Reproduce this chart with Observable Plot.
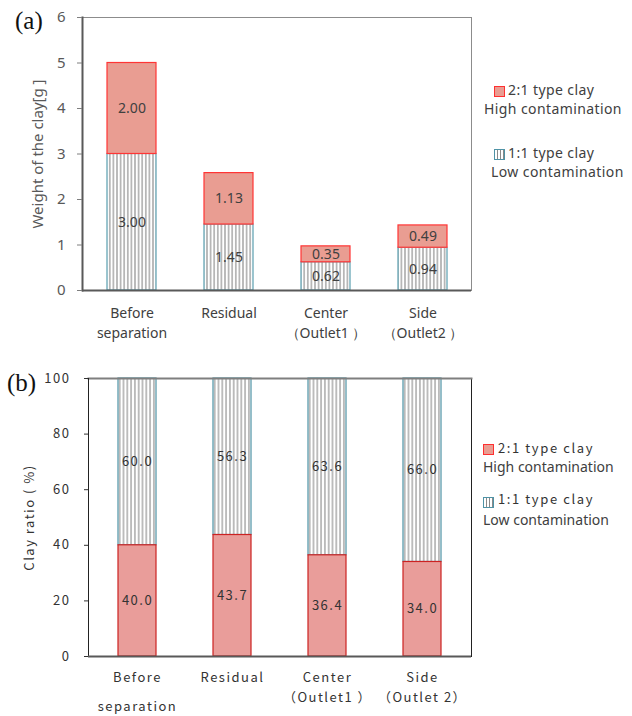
<!DOCTYPE html>
<html><head><meta charset="utf-8">
<script src="https://cdn.jsdelivr.net/npm/d3@7"></script>
<script src="https://cdn.jsdelivr.net/npm/@observablehq/plot@0.6"></script>
<style>
body{margin:0;background:#fff;}
#wrap{position:relative;width:632px;height:716px;overflow:hidden;background:#fff;}
.abs{position:absolute;white-space:nowrap;line-height:1;}
.panel{font-family:"Liberation Serif",serif;font-size:25px;color:#111;}
.lgA{font-family:"Noto Sans",sans-serif;font-size:14px;color:#404040;letter-spacing:0.4px;}
.lgB1{font-family:"Noto Sans CJK JP",sans-serif;font-size:13px;color:#333;letter-spacing:1.6px;}
.lgB2{font-family:"Noto Sans",sans-serif;font-size:14px;color:#404040;}
.swR{position:absolute;width:9px;height:9px;background:#e99d92;border:1px solid #ff3030;}
.swH{position:absolute;width:9px;height:9px;border:1px solid #4f93a6;background:repeating-linear-gradient(90deg,#fff 0 2px,#8a8a8a 2px 3px);}
</style></head><body><div id="wrap"></div>
<script>
// ---- data ----
const categoriesA = ["Before\nseparation", "Residual", "Center\n（Outlet1 ）", "Side\n（Outlet2 ）"];
const categoriesB = ["Before separation", "Residual", "Center (Outlet1)", "Side (Outlet 2)"];
const labelsB1 = ["Before", "Residual", "Center", "Side"];
const labelsB2 = ["", "", "（Outlet1 ）", "（Outlet 2）"];
const labelsB3 = ["separation", "", "", ""];
const weightLow = [3.00, 1.45, 0.62, 0.94];   // 1:1 type clay (g)
const weightHigh = [2.00, 1.13, 0.35, 0.49];  // 2:1 type clay (g)
const ratioHigh = [40.0, 43.7, 36.4, 34.0];   // 2:1 type clay (%)
const ratioLow = [60.0, 56.3, 63.6, 66.0];    // 1:1 type clay (%)
const ticksA = [0, 1, 2, 3, 4, 5, 6];
const ticksB = [0, 20, 40, 60, 80, 100];
const seriesNames = ["2:1 type clay", "High contamination", "1:1 type clay", "Low contamination"];

const wrap = document.getElementById("wrap");

function addPattern(svg, id, w) {
  const defs = d3.select(svg).insert("defs", ":first-child");
  const p = defs.append("pattern").attr("id", id).attr("patternUnits", "userSpaceOnUse")
    .attr("width", w).attr("height", 10);
  p.append("rect").attr("width", w).attr("height", 10).attr("fill", "#fff");
  p.append("line").attr("x1", w / 2).attr("x2", w / 2).attr("y1", 0).attr("y2", 10)
    .attr("stroke", "#7d7d7d").attr("stroke-width", 1);
}

// ---- panel (a) ----
const lowA = categoriesA.map((c, i) => ({c, y1: 0, y2: weightLow[i], v: weightLow[i]}));
const highA = categoriesA.map((c, i) => ({c, y1: weightLow[i], y2: weightLow[i] + weightHigh[i], v: weightHigh[i]}));

const plotA = Plot.plot({
  width: 632, height: 345,
  marginLeft: 82, marginRight: 161, marginTop: 17, marginBottom: 55,
  style: {fontFamily: "'Noto Sans', sans-serif", fontSize: "14px", color: "#595959", background: "transparent", overflow: "visible"},
  x: {domain: categoriesA, paddingInner: 0.5, paddingOuter: 0.25, label: null},
  y: {domain: [0, 6], label: null},
  marks: [
    Plot.frame({stroke: "#8c8c8c", strokeWidth: 1}),
    Plot.barY(lowA, {x: "c", y1: "y1", y2: "y2", fill: "url(#hatchA)", stroke: "#5a9fb0", strokeWidth: 1.2}),
    Plot.barY(highA, {x: "c", y1: "y1", y2: "y2", fill: "#e99d92", stroke: "#ff3535", strokeWidth: 1.2}),
    Plot.text(lowA, {x: "c", y: d => (d.y1 + d.y2) / 2, text: d => d.v.toFixed(2), fill: "#404040", fontSize: 14}),
    Plot.text(highA, {x: "c", y: d => (d.y1 + d.y2) / 2, text: d => d.v.toFixed(2), fill: "#404040", fontSize: 14}),
    Plot.frame({anchor: "left", stroke: "#595959", strokeWidth: 2}),
    Plot.ruleY([0], {stroke: "#595959", strokeWidth: 2}),
    Plot.axisY({ticks: ticksA, tickFormat: d => String(d), tickSize: 5, tickPadding: 12, stroke: "#7f7f7f", fill: "#595959", fontSize: 15,
      label: null}),
    Plot.axisY({ticks: [], label: "Weight of the clay[g ]", labelAnchor: "center", labelOffset: 50, labelArrow: false,
      fill: "#595959", fontSize: 15, letterSpacing: "0.5px"}),
    Plot.axisX({tickSize: 0, tickPadding: 13, lineHeight: 1.45, fill: "#404040", fontSize: 14, label: null})
  ]
});
addPattern(plotA, "hatchA", 3.6);
plotA.style.position = "absolute"; plotA.style.left = "0px"; plotA.style.top = "0px";
wrap.appendChild(plotA);

// ---- panel (b) ----
const highB = categoriesB.map((c, i) => ({c, y1: 0, y2: ratioHigh[i], v: ratioHigh[i]}));
const lowB = categoriesB.map((c, i) => ({c, y1: ratioHigh[i], y2: ratioHigh[i] + ratioLow[i], v: ratioLow[i]}));
const lookup = arr => d => arr[categoriesB.indexOf(d)];

const plotB = Plot.plot({
  width: 632, height: 366,
  marginLeft: 88, marginRight: 161, marginTop: 28, marginBottom: 60,
  style: {fontFamily: "'Noto Sans CJK JP', sans-serif", fontSize: "13px", color: "#333", background: "transparent", overflow: "visible", letterSpacing: "1.5px"},
  x: {domain: categoriesB, paddingInner: 0.6, paddingOuter: 0.3, label: null},
  y: {domain: [0, 100], label: null},
  marks: [
    Plot.frame({anchor: "right", stroke: "#222", strokeWidth: 1}),
    Plot.barY(lowB, {x: "c", y1: "y1", y2: "y2", fill: "url(#hatchB)", stroke: "#4f93a6", strokeWidth: 1.2}),
    Plot.barY(highB, {x: "c", y1: "y1", y2: "y2", fill: "#e99d9a", stroke: "#cc2222", strokeWidth: 1.2}),
    Plot.text(lowB, {x: "c", y: d => (d.y1 + d.y2) / 2, text: d => d.v.toFixed(1), fill: "#333", fontSize: 13}),
    Plot.text(highB, {x: "c", y: d => (d.y1 + d.y2) / 2, text: d => d.v.toFixed(1), fill: "#333", fontSize: 13}),
    Plot.frame({anchor: "top", stroke: "#7f7f7f", strokeWidth: 2}),
    Plot.frame({anchor: "left", stroke: "#222", strokeWidth: 1}),
    Plot.ruleY([0], {stroke: "#595959", strokeWidth: 2}),
    Plot.axisY({ticks: ticksB, tickFormat: d => String(d), tickSize: 4, tickPadding: 14, stroke: "#333", fill: "#333", fontSize: 13,
      label: "Clay ratio ( %)", labelAnchor: "center", labelOffset: 64, labelArrow: false}),
    Plot.axisX({tickSize: 0, tickPadding: 16, tickFormat: lookup(labelsB1), fill: "#333", fontSize: 13, label: null}),
    Plot.axisX({tickSize: 0, tickPadding: 36, tickFormat: lookup(labelsB2), fill: "#333", fontSize: 13, label: null}),
    Plot.axisX({tickSize: 0, tickPadding: 45, tickFormat: lookup(labelsB3), fill: "#333", fontSize: 13, label: null})
  ]
});
addPattern(plotB, "hatchB", 3.8);
plotB.style.position = "absolute"; plotB.style.left = "0px"; plotB.style.top = "350px";
wrap.appendChild(plotB);

// ---- panel letters and legends (HTML) ----
function addDiv(cls, text, left, top) {
  const d = document.createElement("div");
  d.className = "abs " + cls; d.textContent = text;
  d.style.left = left + "px"; d.style.top = top + "px";
  wrap.appendChild(d); return d;
}
function addSwatch(cls, left, top) {
  const d = document.createElement("div");
  d.className = cls; d.style.left = left + "px"; d.style.top = top + "px";
  wrap.appendChild(d);
}
addDiv("panel", "(a)", 15, 8);
addDiv("panel", "(b)", 7, 370);

// legend (a)
addSwatch("swR", 494, 86);
addDiv("lgA", seriesNames[0], 508, 83);
addDiv("lgA", seriesNames[1], 484, 102);
addSwatch("swH", 494, 149);
addDiv("lgA", seriesNames[2], 508, 146);
addDiv("lgA", seriesNames[3], 491, 165);

// legend (b)
addSwatch("swR", 483, 444);
addDiv("lgB1", seriesNames[0], 498, 441);
addDiv("lgB2", seriesNames[1], 483, 460);
addSwatch("swH", 483, 497);
addDiv("lgB1", seriesNames[2], 498, 492);
addDiv("lgB2", seriesNames[3], 483, 513);
</script>
</body></html>
